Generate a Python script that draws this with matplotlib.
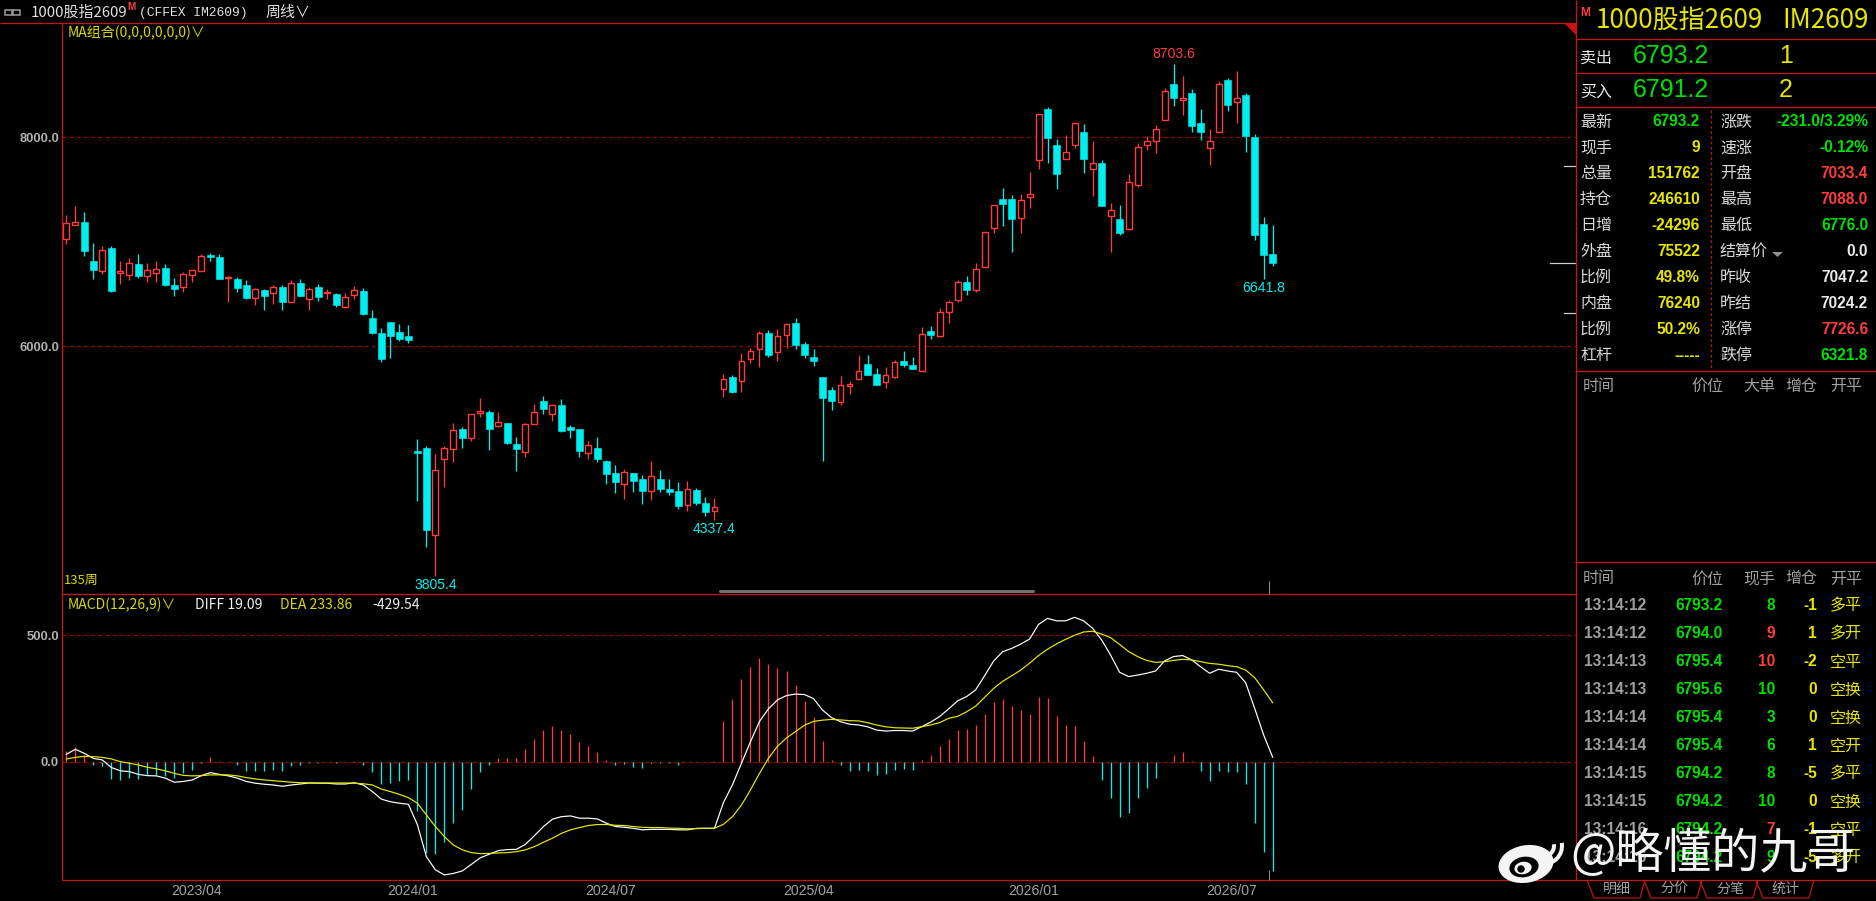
import matplotlib
matplotlib.use('Agg')
import numpy as np
import matplotlib.pyplot as plt
from matplotlib.patches import Polygon, Ellipse, Circle, Arc
from matplotlib.transforms import blended_transform_factory

CJK = ['Noto Sans CJK SC', 'DejaVu Sans']
NUM = ['Liberation Sans', 'DejaVu Sans']
MONO = ['Liberation Mono', 'DejaVu Sans Mono']
plt.rcParams['font.family'] = CJK
plt.rcParams['axes.unicode_minus'] = False

# ---------------- data (weekly candles) ----------------
opens = [7023,7164,7189,6816,6724,6940,6704,6685,6787,6676,
         6704,6749,6586,6570,6685,6724,6870,6854,6650,6641,
         6586,6465,6535,6513,6564,6420,6602,6456,6567,6507,
         6500,6379,6488,6529,6271,6127,6232,6137,6098,4998,
         5027,4197,4924,5020,5208,5125,5365,5371,5240,5266,
         5065,4991,5259,5476,5355,5438,5228,5208,4982,5027,
         4902,4787,4685,4787,4730,4618,4727,4634,4615,4484,
         4621,4500,4420,5588,5702,5664,5875,5970,6123,5942,
         6104,6222,6018,5894,5702,5578,5470,5616,5683,5830,
         5734,5655,5709,5859,5820,5766,6143,6101,6324,6439,
         6612,6535,6761,7128,7409,7409,7224,7425,7779,8267,
         7923,7789,7923,8051,7693,7754,7250,7218,7125,7547,
         7923,7968,8169,8513,8360,8424,8137,7894,8047,8545,
         8334,8401,8003,7170,6883]
highs = [7256,7342,7285,6988,6960,6956,6816,6845,6883,6797,
         6816,6787,6653,6711,6727,6883,6893,6883,6672,6666,
         6634,6558,6548,6586,6586,6634,6644,6570,6596,6545,
         6507,6507,6577,6558,6347,6172,6232,6213,6204,5113,
         5046,4969,5046,5263,5228,5349,5505,5390,5371,5266,
         5132,5266,5448,5524,5444,5495,5247,5208,5094,5132,
         4912,4864,4826,4787,4768,4902,4816,4730,4701,4711,
         4641,4554,4548,5735,5722,5932,5980,6143,6152,6162,
         6210,6270,6037,5970,5702,5610,5715,5667,5916,5916,
         5792,5801,5868,5954,5897,6184,6194,6366,6439,6634,
         6672,6797,7090,7348,7514,7448,7457,7668,8220,8290,
         7984,8022,8133,8127,7964,7783,7371,7352,7649,7942,
         8009,8118,8475,8703.6,8586,8459,8267,8076,8535,8564,
         8631,8421,8031,7237,7161]
lows = [6982,7157,6867,6647,6695,6523,6599,6637,6657,6618,
        6618,6580,6484,6523,6618,6724,6819,6647,6427,6523,
        6456,6398,6350,6405,6350,6420,6484,6350,6436,6449,
        6379,6370,6456,6302,6121,5853,5891,6054,6035,4523,
        4082,3805.4,4656,4896,5030,5097,5326,5011,5231,5068,
        4806,4944,5259,5352,5285,5180,5125,4944,4921,4896,
        4682,4599,4542,4609,4494,4532,4609,4580,4446,4427,
        4484,4379,4337.4,5518,5556,5565,5836,5804,5900,5862,
        5986,5977,5891,5814,4905,5393,5438,5543,5683,5728,
        5632,5604,5699,5804,5782,5766,6069,6088,6222,6426,
        6494,6519,6752,7087,7154,6905,7087,7326,7700,7757,
        7508,7789,7894,7661,7441,7346,6905,7065,7116,7527,
        7878,7853,8169,8303,8213,8054,7977,7738,8047,8255,
        8140,7862,7020,6641.8,6771]
closes = [7180,7186,6915,6733,6921,6532,6720,6794,6676,6727,
          6736,6590,6551,6692,6727,6864,6857,6647,6663,6561,
          6465,6545,6484,6564,6427,6602,6484,6545,6475,6519,
          6398,6468,6535,6312,6130,5881,6102,6073,6063,4982,
          4245,4816,5023,5196,5125,5349,5377,5212,5272,5074,
          5020,5253,5368,5403,5435,5189,5202,4998,5055,4921,
          4781,4701,4797,4714,4618,4755,4637,4609,4475,4631,
          4503,4417,4459,5684,5565,5856,5951,6123,5919,6095,
          6210,6015,5919,5862,5508,5479,5626,5635,5760,5728,
          5632,5722,5849,5824,5785,6114,6111,6324,6420,6612,
          6541,6736,7090,7348,7365,7221,7397,7454,8220,7996,
          7652,7856,8133,7795,7751,7346,7301,7087,7569,7904,
          7961,8076,8443,8379,8373,8108,8054,7961,8507,8312,
          8373,8015,7068,6877,6793.2]

macd_hist = [42,59,29,-11,-17,-66,-70,-63,-66,-53,
             -53,-57,-63,-43,-30,-3,18,5,-2,-13,
             -34,-37,-37,-30,-37,-17,-13,-3,-5,-2,
             -5,-2,5,-11,-41,-87,-84,-76,-70,-195,
             -359,-362,-317,-242,-190,-108,-41,-13,17,17,
             17,53,92,125,143,125,112,80,63,39,
             8,-13,-8,-20,-25,-5,-5,-3,-13,-2,
             -2,-1,2,163,250,329,376,412,388,372,
             360,305,242,179,84,9,-13,-37,-33,-37,
             -53,-49,-33,-26,-30,9,29,64,92,128,
             132,146,190,236,250,221,205,190,257,253,
             182,146,142,84,24,-70,-144,-219,-201,-144,
             -101,-62,-2,29,38,3,-37,-76,-37,-41,
             -41,-87,-242,-355,-429.54]
macd_diff = [30,50,34,14,8,-22,-35,-38,-49,-54,
             -55,-64,-80,-77,-71,-54,-42,-49,-55,-64,
             -77,-84,-88,-91,-96,-91,-87,-83,-84,-84,
             -87,-87,-82,-91,-117,-147,-157,-163,-167,-248,
             -374,-426,-446,-440,-430,-404,-378,-364,-350,-346,
             -345,-325,-291,-255,-226,-216,-213,-222,-222,-225,
             -242,-255,-258,-262,-268,-266,-266,-266,-268,-268,
             -262,-262,-262,-160,-90,-5,80,160,210,245,
             262,268,266,250,205,175,159,149,146,139,
             126,122,124,124,122,139,157,179,209,241,
             258,284,340,398,435,448,465,485,543,567,
             557,557,571,557,528,482,422,354,337,343,
             350,359,399,416,420,403,376,350,366,359,
             354,313,212,107,19.09]
macd_dea = [12,18,22,21,18,12,1,-5,-12,-21,
            -27,-35,-45,-53,-55,-54,-51,-51,-51,-55,
            -62,-67,-71,-74,-77,-80,-82,-82,-83,-83,
            -83,-83,-84,-86,-91,-107,-117,-128,-141,-163,
            -209,-255,-295,-328,-347,-358,-362,-361,-359,-358,
            -354,-347,-334,-317,-301,-282,-268,-259,-251,-247,
            -247,-250,-251,-255,-258,-259,-259,-261,-262,-264,
            -263,-262,-262,-246,-216,-170,-110,-45,15,62,
            95,120,145,160,165,168,166,163,162,155,
            146,139,135,134,133,139,146,155,172,180,
            198,220,255,290,318,340,362,390,420,445,
            466,484,500,513,516,505,491,464,436,416,
            401,393,396,401,405,403,396,389,386,380,
            376,363,333,285,233.86]

price_ticks = [6000, 8000]
macd_ticks = [0, 500]
date_pos = [14.5, 38.5, 60.5, 82.5, 107.5, 129.5]
date_labels = ['2023/04', '2024/01', '2024/07', '2025/04', '2026/01', '2026/07']
high_marks = [123]
low_marks = [41, 72, 133]

# quote panel
quote_title = '1000股指2609'
quote_code = 'IM2609'
ask_price, ask_vol = '6793.2', '1'
bid_price, bid_vol = '6791.2', '2'
left_labels = ['最新', '现手', '总量', '持仓', '日增', '外盘', '比例', '内盘', '比例', '杠杆']
left_values = ['6793.2', '9', '151762', '246610', '-24296', '75522', '49.8%', '76240', '50.2%', '-----']
left_kinds = ['g', 'y', 'y', 'y', 'y', 'y', 'y', 'y', 'y', 'y']
right_labels = ['涨跌', '速涨', '开盘', '最高', '最低', '结算价', '昨收', '昨结', '涨停', '跌停']
right_values = ['-231.0/3.29%', '-0.12%', '7033.4', '7088.0', '6776.0', '0.0', '7047.2', '7024.2', '7726.6', '6321.8']
right_kinds = ['g', 'g', 'r', 'r', 'g', 'w', 'w', 'w', 'r', 'g']
limit_up, last_price, limit_down = 7726.6, 6793.2, 6321.8

trade_time = ['13:14:12', '13:14:12', '13:14:13', '13:14:13', '13:14:14',
              '13:14:14', '13:14:15', '13:14:15', '13:14:16', '13:14:16']
trade_price = ['6793.2', '6794.0', '6795.4', '6795.6', '6795.4',
               '6795.4', '6794.2', '6794.2', '6794.2', '6794.2']
trade_vol = ['8', '9', '10', '10', '3', '6', '8', '10', '7', '9']
trade_vol_kind = ['g', 'r', 'r', 'g', 'g', 'g', 'g', 'g', 'r', 'g']
trade_oi = ['-1', '1', '-2', '0', '0', '1', '-5', '0', '-1', '-5']
trade_type = ['多平', '多开', '空平', '空换', '空换', '空开', '多平', '空换', '空平', '多开']
tabs = ['明细', '分价', '分笔', '统计']

# ---------------- style ----------------
W, H, DPI = 1876, 901, 100
RED = '#ff3c3c'
CYAN = '#00eeee'
BORDER = '#c81414'
GRID = '#a00000'
GREEN = '#00e000'
YELLOW = '#e6e600'
WHITE = '#e8e8e8'
GRAY = '#a0a0a0'
KC = {'g': GREEN, 'y': YELLOW, 'r': RED, 'w': WHITE}


def pt(px):
    return px * 72.0 / DPI


def rect(x0, y0, x1, y1):
    return [x0 / W, 1 - y1 / H, (x1 - x0) / W, (y1 - y0) / H]


fig = plt.figure(figsize=(W / DPI, H / DPI), dpi=DPI, facecolor='black')

XL = (-0.48, 167.7)

# ---------------- price panel ----------------
ax = fig.add_axes(rect(62, 23, 1576, 594))
ax.set_facecolor('black')
ax.set_xlim(*XL)
ax.set_ylim(3630, 9094)
for s in ax.spines.values():
    s.set_visible(False)
ax.set_xticks([])
ax.set_yticks(price_ticks)
ax.set_yticklabels([f'{v:.1f}' for v in price_ticks])
ax.tick_params(axis='y', length=0, pad=pt(3), colors='#b0b0b0', labelsize=pt(13))
for t in ax.get_yticklabels():
    t.set_fontweight('bold')
    t.set_family(NUM)
for v in price_ticks:
    ax.axhline(v, color=GRID, lw=pt(1.2), ls=(0, (3, 3)), zorder=1)

o = np.array(opens, float)
c = np.array(closes, float)
h = np.array(highs, float)
l = np.array(lows, float)
x = np.arange(len(o))
up = c >= o
top = np.maximum(o, c)
bot = np.minimum(o, c)
bh = np.maximum(top - bot, 9)

ax.vlines(x[~up], l[~up], h[~up], color=CYAN, lw=pt(1.3), zorder=2)
ax.bar(x[~up], bh[~up], bottom=bot[~up], width=0.74, color=CYAN, edgecolor=CYAN,
       linewidth=pt(0.6), zorder=3)
ax.vlines(x[up], top[up], h[up], color=RED, lw=pt(1.3), zorder=2)
ax.vlines(x[up], l[up], bot[up], color=RED, lw=pt(1.3), zorder=2)
ax.bar(x[up], bh[up], bottom=bot[up], width=0.66, facecolor='black', edgecolor=RED,
       linewidth=pt(1.4), zorder=3)

for i in high_marks:
    ax.annotate(f'{highs[i]:.1f}', (i, highs[i]), xytext=(0, pt(3)), textcoords='offset points',
                ha='center', va='bottom', color=RED, fontsize=pt(14), family=NUM)
for i in low_marks:
    ax.annotate(f'{lows[i]:.1f}', (i, lows[i]), xytext=(0, -pt(2)), textcoords='offset points',
                ha='center', va='top', color=CYAN, fontsize=pt(14), family=NUM)

# price marks on the right edge (limit up, last, limit down)
tr = blended_transform_factory(ax.transAxes, ax.transData)
for v, x0 in [(limit_up, 0.992), (last_price, 0.983), (limit_down, 0.992)]:
    ax.plot([x0, 1.0], [v, v], transform=tr, color='#d0d0d0', lw=pt(1.2), clip_on=False, zorder=4)

# ---------------- MACD panel ----------------
ax2 = fig.add_axes(rect(62, 594, 1576, 880))
ax2.set_facecolor('black')
ax2.set_xlim(*XL)
ax2.set_ylim(-466, 663)
for s in ax2.spines.values():
    s.set_visible(False)
ax2.set_yticks(macd_ticks)
ax2.set_yticklabels([f'{v:.1f}' for v in macd_ticks])
ax2.tick_params(axis='y', length=0, pad=pt(3), colors='#b0b0b0', labelsize=pt(13))
for t in ax2.get_yticklabels():
    t.set_fontweight('bold')
    t.set_family(NUM)
ax2.set_xticks(date_pos)
ax2.set_xticklabels(date_labels)
ax2.tick_params(axis='x', length=0, pad=pt(4), colors=GRAY, labelsize=pt(14))
for t in ax2.get_xticklabels():
    t.set_family(NUM)
for v in macd_ticks:
    ax2.axhline(v, color=GRID, lw=pt(1.2), ls=(0, (3, 3)), zorder=1)

hist = np.array(macd_hist, float)
xm = np.arange(len(hist))
ax2.vlines(xm[hist > 0], 0, hist[hist > 0], color=RED, lw=pt(1.3), zorder=2)
ax2.vlines(xm[hist < 0], 0, hist[hist < 0], color=CYAN, lw=pt(1.3), zorder=2)
ax2.plot(xm, macd_diff, color='white', lw=pt(1.2), zorder=3)
ax2.plot(xm, macd_dea, color='#e8e800', lw=pt(1.2), zorder=3)

# ---------------- overlay (frame, texts, quote panel) ----------------
ov = fig.add_axes([0, 0, 1, 1], zorder=10)
ov.set_xlim(0, W)
ov.set_ylim(H, 0)
ov.axis('off')
ov.patch.set_alpha(0)


def L(xs, ys, color=BORDER, w=1.3, cap='butt', **kw):
    ov.plot(xs, ys, color=color, lw=pt(w), solid_capstyle=cap, **kw)


def T(xp, yp, s, size, color, ha='left', va='center', weight='normal', family=None):
    ov.text(xp, yp, s, fontsize=pt(size), color=color, ha=ha, va=va,
            fontweight=weight, family=family or CJK)


# frame
L([0, 1576], [23, 23])
L([62, 62], [23, 880])
L([62, 1576], [594, 594])
L([62, 1876], [880, 880])
L([1576, 1576], [0, 880])
for yy in (39, 73, 107, 371, 562):
    L([1576, 1876], [yy, yy])
L([1711, 1711], [110, 368], ls=(0, (2, 2)))
ov.add_patch(Polygon([[1564, 23], [1576, 23], [1576, 35]], closed=True, color=BORDER, lw=0))

# header line
ov.add_patch(plt.Rectangle((5, 10), 7, 5, fill=False, ec='#a0a0a0', lw=pt(1.5)))
ov.add_patch(plt.Rectangle((13, 10), 7, 5, fill=False, ec='#a0a0a0', lw=pt(1.5)))
T(31, 13, '1000股指2609', 15, '#e0e0e0')
T(127, 7, 'M', 10, RED, weight='bold', family=NUM)
T(139, 13, '(CFFEX IM2609)', 13, '#e0e0e0', family=MONO)
T(266, 13, '周线∨', 15, '#e0e0e0')
T(68, 33, 'MA组合(0,0,0,0,0,0)∨', 14, '#d8d800')
T(64, 580, f'{len(opens)}周', 13, '#d8d800')

# scrollbar and cursor mark
L([720, 1033], [591, 591], color='#707070', w=3, cap='round')
L([1269, 1269], [581, 594], color='#909090', w=1)
L([1269, 1269], [870, 880], color='#909090', w=1)

# MACD title
T(68, 605, 'MACD(12,26,9)∨', 14, '#d8d800')
T(195, 605, f'DIFF {macd_diff[-1]:.2f}', 14, '#f0f0f0')
T(280, 605, f'DEA {macd_dea[-1]:.2f}', 14, '#d8d800')
T(372, 605, f'{macd_hist[-1]:.2f}', 14, '#f0f0f0')

# quote panel title
T(1580, 13, 'M', 12, RED, weight='bold', family=NUM)
T(1596, 20, quote_title, 26, YELLOW)
T(1782, 20, quote_code, 26, YELLOW)
T(1580, 58, '卖出', 16, WHITE)
T(1633, 56, ask_price, 25, GREEN, family=NUM)
T(1786, 56, ask_vol, 25, YELLOW, ha='center', family=NUM)
T(1580, 92, '买入', 16, WHITE)
T(1633, 90, bid_price, 25, GREEN, family=NUM)
T(1786, 90, bid_vol, 25, YELLOW, ha='center', family=NUM)

row_y = [122 + 25.9 * k for k in range(len(left_labels))]
for k, yy in enumerate(row_y):
    T(1580, yy, left_labels[k], 16, '#d8d8d8')
    T(1700, yy, left_values[k], 15.5, KC[left_kinds[k]], ha='right', weight='bold', family=NUM)
    T(1720, yy, right_labels[k], 16, '#d8d8d8')
    T(1868, yy, right_values[k], 15.5, KC[right_kinds[k]], ha='right', weight='bold', family=NUM)
ov.add_patch(Polygon([[1772, 252], [1783, 252], [1777.5, 257]], closed=True, color='#909090', lw=0))

# tick list headers
for yy, mid in ((386, '大单'), (579, '现手')):
    T(1583, yy, '时间', 16, GRAY)
    T(1723, yy, '价位', 16, GRAY, ha='right')
    T(1775, yy, mid, 16, GRAY, ha='right')
    T(1817, yy, '增仓', 16, GRAY, ha='right')
    T(1830, yy, '开平', 16, GRAY)

trow_y = [606 + 28 * k for k in range(len(trade_time))]
for k, yy in enumerate(trow_y):
    T(1584, yy, trade_time[k], 15.5, GRAY, weight='bold', family=NUM)
    T(1723, yy, trade_price[k], 15.5, GREEN, ha='right', weight='bold', family=NUM)
    T(1775, yy, trade_vol[k], 15.5, KC[trade_vol_kind[k]], ha='right', weight='bold', family=NUM)
    T(1817, yy, trade_oi[k], 15.5, YELLOW, ha='right', weight='bold', family=NUM)
    T(1830, yy, trade_type[k], 16, YELLOW)

# bottom tabs
tab_x = [1617, 1674, 1730, 1786]
for k, cx in enumerate(tab_x):
    ov.add_patch(Polygon([[cx - 30, 880], [cx - 23, 898], [cx + 23, 898], [cx + 28, 880]],
                         closed=False, fill=False, ec=BORDER, lw=pt(1.2)))
    T(cx, 889, tabs[k], 14, GRAY, ha='center')

# watermark
ov.add_patch(Ellipse((1526, 864), 54, 36, angle=-10, color='#f4f4f4', zorder=20))
ov.add_patch(Ellipse((1524, 867), 28, 19, angle=-10, color='black', zorder=21))
ov.add_patch(Ellipse((1523, 868), 16, 11, angle=-10, color='#f4f4f4', zorder=22))
ov.add_patch(Circle((1521, 869), 3, color='black', zorder=23))
ov.add_patch(Arc((1544, 846), 20, 20, theta1=-10, theta2=100, color='#f4f4f4', lw=pt(4), zorder=20))
ov.add_patch(Arc((1544, 846), 36, 36, theta1=-10, theta2=100, color='#f4f4f4', lw=pt(4), zorder=20))
ov.text(1570, 854, '@略懂的九哥', fontsize=pt(48), color='#f4f4f4', ha='left', va='center',
        family=CJK, zorder=20)

fig.savefig('out.png', dpi=DPI, facecolor='black')
